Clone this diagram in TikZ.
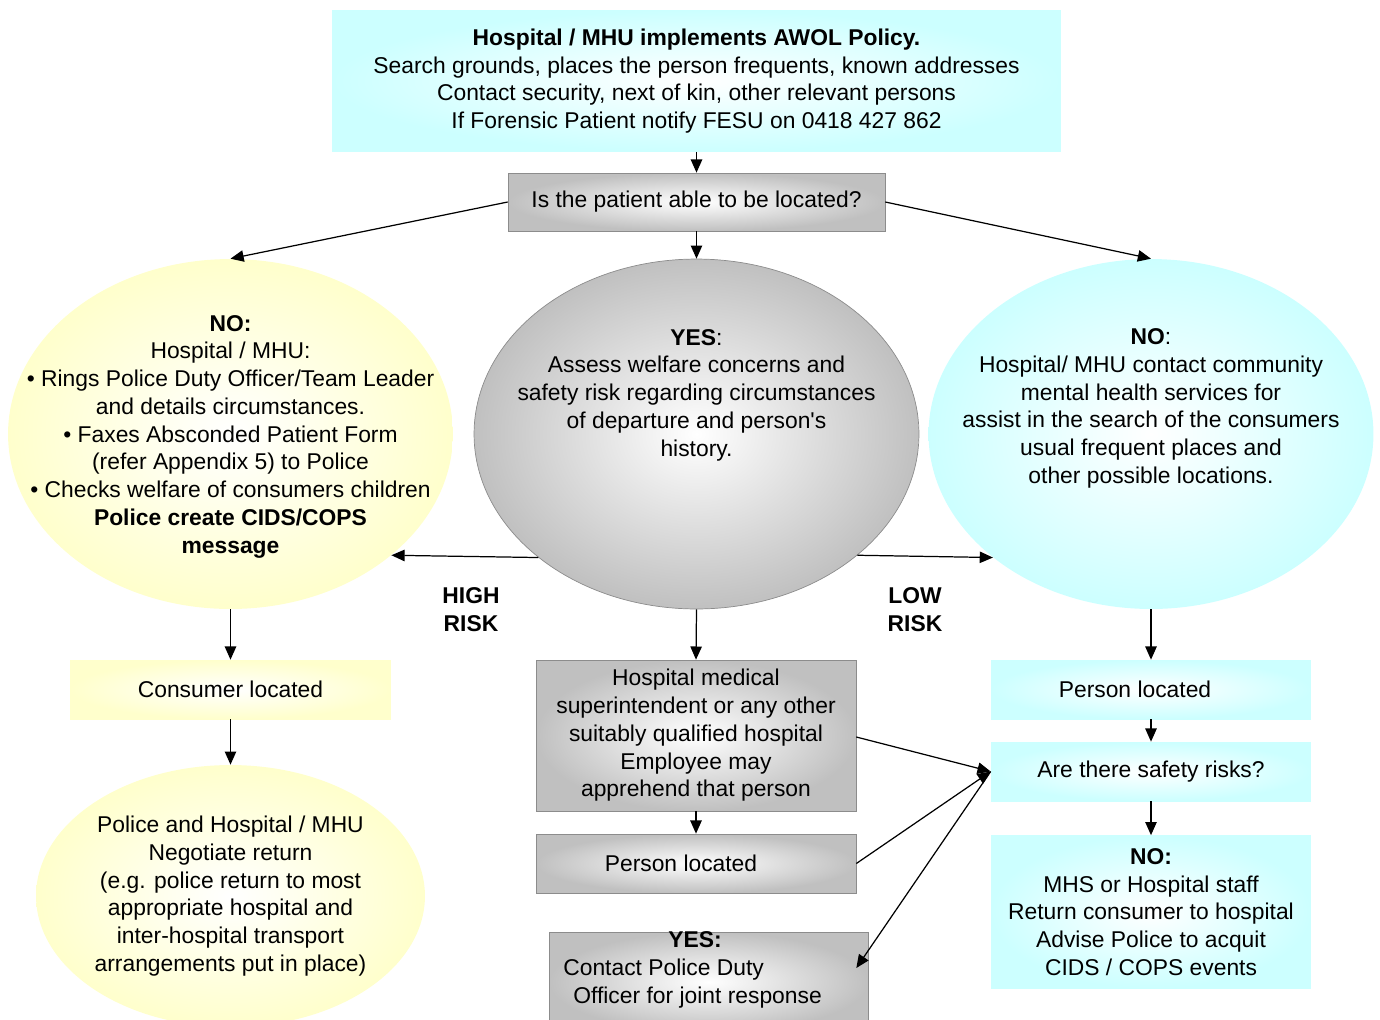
\documentclass[tikz,border=0pt]{standalone}
\usepackage{fontspec}
\setmainfont{Liberation Sans}
\usepackage{tikz}
\usetikzlibrary{shapes.geometric,arrows.meta}
\usepackage{xcolor}
\definecolor{awolcyan}{HTML}{CCFFFF}
\definecolor{awolyellow}{HTML}{FFFFCC}
\definecolor{awolgray}{HTML}{C0C0C0}
\definecolor{awolline}{HTML}{8C8C8C}

\begin{document}
\begin{tikzpicture}[
  x=0.02cm, y=-0.02cm,
  txt/.style={align=center, font=\fontsize{13}{15.8}\selectfont, inner sep=0pt},
  cyanbox/.style={txt, rectangle, inner color=white, outer color=awolcyan},
  yellowbox/.style={txt, rectangle, inner color=white, outer color=awolyellow},
  graybox/.style={txt, rectangle, draw=awolline, inner color=white, outer color=awolgray},
  oval/.style={ellipse, minimum width=8.9cm, minimum height=7cm, inner sep=0pt},
  arrow/.style={-{Triangle[length=7.5pt,width=6.5pt]}, line width=0.7pt},
  risk/.style={txt, font=\fontsize{13}{15.8}\selectfont\bfseries}
]
\useasboundingbox (0,0) rectangle (1380,1019);

\node[cyanbox, minimum width=14.58cm, minimum height=2.82cm] (policy) at (696.5,81) {\textbf{Hospital / MHU implements AWOL Policy.}\\Search grounds, places the person frequents, known addresses\\Contact security, next of kin, other relevant persons\\If Forensic Patient notify FESU on 0418 427 862};
\node[graybox, minimum width=7.54cm, minimum height=1.16cm] (question) at (696.5,202) {Is the patient able to be located?};

\node[oval, inner color=white, outer color=awolyellow] (nohigh) at (230.5,434) {};
\node[oval, draw=awolline, inner color=white, outer color=awolgray] (assess) at (696.5,434) {};
\node[oval, inner color=white, outer color=awolcyan] (nolow) at (1151,434) {};
\node[txt] (nohigh-text) at (230.5,436.5) {\textbf{NO:}\\Hospital / MHU:\\\textbullet{} Rings Police Duty Officer/Team Leader\\and details circumstances.\\\textbullet{} Faxes Absconded Patient Form\\(refer Appendix 5) to Police\\\textbullet{} Checks welfare of consumers children\\\textbf{Police create CIDS/COPS}\\\textbf{message}};
\node[txt] (assess-text) at (696.5,395) {\textbf{YES}:\\Assess welfare concerns and\\safety risk regarding circumstances\\of departure and person\textquotesingle s\hspace*{0.56cm}\\history.};
\node[txt] (nolow-text) at (1151,408.5) {\textbf{NO}:\\Hospital/ MHU contact community\\mental health services for\\assist in the search of the consumers\\usual frequent places and\\other possible locations.};

\node[risk] (high) at (471,610) {HIGH\\RISK};
\node[risk] (low) at (915,610) {LOW\\RISK};

\node[yellowbox, minimum width=6.42cm, minimum height=1.18cm] (consumer) at (230.5,689.5) {Consumer located};
\node[ellipse, minimum width=7.78cm, minimum height=5.24cm, inner sep=0pt, inner color=white, outer color=awolyellow] (negotiate) at (230.5,896) {};
\node[txt] (negotiate-text) at (230.5,896) {Police and Hospital / MHU\\Negotiate return\\(e.g. police return to most\\appropriate hospital and\\inter-hospital transport\\arrangements put in place)};

\node[graybox, minimum width=6.4cm, minimum height=3.02cm] (medical) at (696,735.5) {Hospital medical\\superintendent or any other\\suitably qualified hospital\\Employee may\\apprehend that person};
\node[graybox, minimum width=6.4cm, minimum height=1.18cm] (grayfound) at (696,863.5) {Person located\hspace*{0.6cm}};
\node[graybox, minimum width=6.38cm, minimum height=2cm] (police) at (708.5,982) {};
\node[txt, align=left, anchor=west] (police-text) at (563,970) {\hspace*{2.1cm}\textbf{YES:}\\Contact Police Duty\\\hspace*{0.2cm}Officer for joint response};

\node[cyanbox, minimum width=6.4cm, minimum height=1.18cm] (cyanfound) at (1151,689.5) {Person located\hspace*{0.64cm}};
\node[cyanbox, minimum width=6.4cm, minimum height=1.18cm] (safety) at (1151,771.5) {Are there safety risks?};
\node[cyanbox, minimum width=6.4cm, minimum height=3.06cm] (return) at (1151,912) {\textbf{NO:}\\MHS or Hospital staff\\Return consumer to hospital\\Advise Police to acquit\\CIDS / COPS events};

\draw[arrow] (policy.south) -- (question.north);
\draw[arrow] (question.west) -- (nohigh.north);
\draw[arrow] (question.south) -- (assess.north);
\draw[arrow] (question.east) -- (nolow.north);
\draw[arrow] (assess.-142.1) -- (nohigh.-37.9);
\draw[arrow] (assess.-37.9) -- (nolow.-142.1);
\draw[arrow] (nohigh.south) -- (consumer.north);
\draw[arrow] (consumer.south) -- (negotiate.north);
\draw[arrow] (assess.south) -- (medical.north);
\draw[arrow] (medical.south) -- (grayfound.north);
\draw[arrow] (nolow.south) -- (cyanfound.north);
\draw[arrow] (cyanfound.south) -- (safety.north);
\draw[arrow] (safety.south) -- (return.north);
\draw[arrow] ([yshift=-0.03cm]medical.east) -- (safety.west);
\draw[arrow] (grayfound.east) -- (safety.west);
\draw[arrow] (safety.west) -- ([xshift=-0.24cm,yshift=0.28cm]police.east);
\end{tikzpicture}
\end{document}
